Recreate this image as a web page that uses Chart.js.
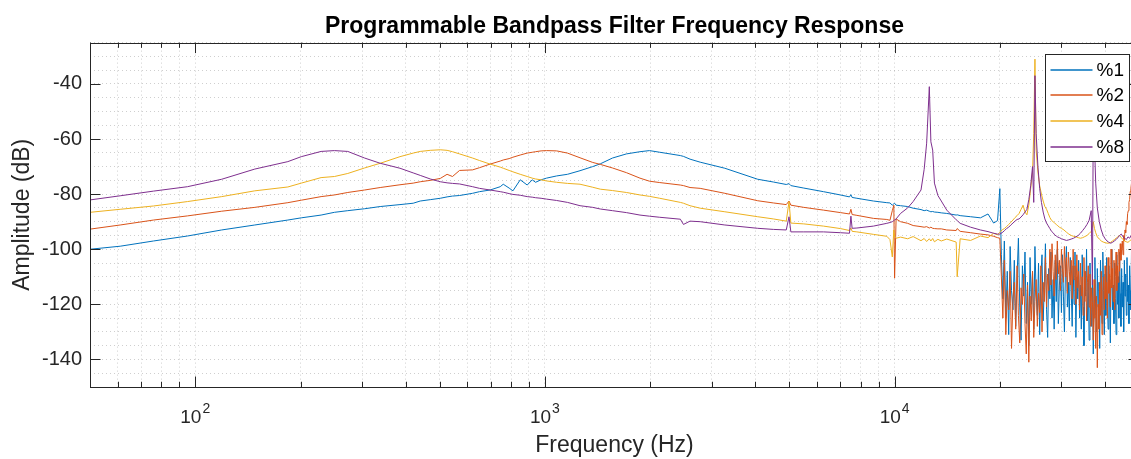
<!DOCTYPE html>
<html lang="en">
<head>
<meta charset="UTF-8">
<title>Programmable Bandpass Filter Frequency Response</title>
<script src="https://cdn.jsdelivr.net/npm/chart.js"></script>
<style>
  html, body { margin: 0; padding: 0; background: #fff; overflow: hidden; }
  #wrap { width: 1139px; height: 459px; }
</style>
</head>
<body>
<div id="wrap"><canvas id="myChart" width="1139" height="459"></canvas></div>
<script>
// frequency points (Hz) below 20 kHz, shared by the four traces
const freq = [
  50, 61, 76, 95, 119, 148, 184, 201, 229, 250, 273, 305, 338, 385, 420, 440, 470, 502, 525, 544,
  570, 621, 650, 697, 745, 760, 790, 810, 850, 890, 920, 940, 975, 1010, 1080, 1160, 1260, 1370, 1440, 1560,
  1710, 1870, 1990, 2130, 2440, 2490, 2600,
  2780, 3270, 4060, 4500, 4900, 4990, 5050, 5500, 6260, 7000, 7430, 7500, 7560, 7800, 8700, 9500, 9700, 9850,
  9950, 10000, 10100, 10400, 10900, 11300, 11900, 12150, 12350, 12570, 12700, 12850, 13000, 13300, 13600, 14100,
  15000, 15100, 15400, 16500, 17600, 18500, 19200, 19700
];

// amplitude (dB) below 20 kHz
const amp1 = [
  -100, -98.9, -97, -95.2, -93, -91.2, -89.4, -88.6, -87.6, -86.6, -86, -85.3, -84.5, -83.8, -83.3, -82.5, -82, -81.5, -81, -80.7,
  -80.5, -79.7, -79.1, -78.5, -77.3, -76.4, -77.8, -78.8, -74.8, -76.7, -74.8, -75.7, -74.8, -74.2, -73.4, -72.8, -71.5, -70, -69, -66.9,
  -65.4, -64.6, -64.2, -64.8, -66, -66.3, -67.3,
  -68.4, -70.6, -74.6, -75.6, -76.5, -76.2, -76.9, -77.8, -79.1, -80.3, -81, -80.2, -81.2, -81.5, -82.5, -83.1, -83.2, -84,
  -83.5, -83.3, -84, -84.2, -84.5, -85.1, -85.6, -86, -85.8, -86.2, -86.4, -86.3, -86.5, -86.6, -86.8, -87,
  -87.6, -87.5, -87.8, -88.2, -88.6, -87.2, -90.5, -89.6
];
const amp2 = [
  -92.7, -91.2, -89.4, -87.9, -86.2, -84.8, -83.1, -82.2, -80.9, -80.3, -79.4, -78.5, -77.6, -76.6, -76, -75.5, -75, -74.3, -72.8, -73.6,
  -71.4, -71.2, -70.4, -69.1, -68, -67.6, -67.1, -66.6, -65.8, -65.1, -64.8, -64.6, -64.3, -64.2, -64.3, -65.1, -66.8, -68.5, -69.2, -70.5,
  -72.2, -74.2, -75.3, -75.8, -76.7, -76.9, -77.6,
  -77.9, -79.7, -82.4, -83.2, -83.8, -82.5, -84, -84.8, -85.8, -86.7, -87.2, -85.5, -87.4, -87.7, -88.8, -89.2, -89.5, -86,
  -84, -110.5, -89, -90, -90.6, -91.4, -91.8, -92, -91.8, -92.3, -92, -92.4, -92.5, -92.6, -92.6, -93,
  -93.2, -92.5, -93.5, -94, -94.5, -94.8, -95.3, -95.8
];
const amp4 = [
  -86.6, -85.5, -84.3, -82.7, -80.9, -78.8, -77.4, -76, -74, -73.6, -72.5, -70.5, -68.8, -66.4, -65.1, -64.5, -64.1, -63.9, -64.1, -64.6,
  -65.4, -66.9, -67.8, -69.1, -70.2, -70.6, -71.4, -71.9, -72.8, -73.6, -74.2, -74.5, -74.8, -75.2, -75.7, -76.1, -76.4, -77.5, -78.2, -78.7,
  -79.4, -80.3, -80.8, -81.5, -83, -83.3, -84.2,
  -85.1, -86.4, -88.2, -89, -89.8, -82.7, -90.5, -90.8, -91.6, -92.5, -93.2, -92.3, -93.5, -93.7, -94.6, -95.3, -96.5, -102.8,
  -93, -95.2, -96, -95.6, -96.2, -95.4, -96.9, -96.1, -97.2, -96.2, -97, -96.1, -97.3, -96.4, -97, -96.3,
  -97.4, -110, -96.2, -96.8, -95.2, -95.8, -94.2, -94.8
];
const amp8 = [
  -82.1, -80.6, -78.9, -77.3, -74.6, -70.9, -68.2, -66.4, -64.5, -64.2, -64.5, -66.9, -68.8, -70.6, -72.3, -73.2, -74.5, -75.5, -75.9, -76.1,
  -76.3, -77.3, -77.9, -78.5, -79.1, -79.3, -79.8, -80.1, -80.4, -80.9, -81.1, -81.3, -81.5, -81.8, -82.3, -83, -84.2, -84.8, -85.4, -86,
  -86.7, -87.6, -88, -88.4, -89.1, -91, -89.8,
  -90, -91.2, -92.4, -92.8, -93, -88.2, -93.7, -93.7, -93.7, -94, -94.2, -88, -92.4, -92.3, -91.6, -90.6, -90.3, -90,
  -89.6, -89.4, -89, -87, -85, -82.7, -78.5, -71, -61.5, -41, -61, -64, -76, -80.5, -82.5, -85.8,
  -89.3, -89.6, -90.6, -92, -93, -93.6, -94.2, -94.5
];

// 20 kHz and up: resonance traces of %4 and %8
const freqHi = [
  20000, 20300, 20600, 20900, 21200, 21500, 21800, 22100, 22400, 22700, 23000, 23300, 23600, 23900, 24200, 24500,
  24800, 25000, 25200, 25400, 25700, 26000, 26300, 26600, 26900, 27200, 27500, 27800, 28100, 28400, 28700, 29000,
  29300, 29600, 30000, 30500, 31000, 31500, 32000, 32500, 33000, 33500, 34000, 34500, 35000, 35500, 36000, 36500,
  36800, 37000, 37300, 37600, 38000, 38500, 39000, 39500, 40000, 40500, 41000, 41500, 42000, 42500, 43000, 43500,
  44000, 44500, 45000, 45500, 46000, 46500, 47000, 47500, 48000, 48500, 49000, 49500, 50000
];
const amp4Hi = [
  -93.8, -93, -92.5, -91.8, -91, -90.2, -89.4, -88.5, -87.8, -87, -85.5, -84, -86.5, -87.5, -84, -78,
  -72, -58, -31, -64, -72, -77, -80, -82.5, -84.5, -85.5, -87, -88.5, -89.5, -90, -90.5, -91,
  -91.5, -92, -92.4, -93, -93.8, -94.5, -95, -95.3, -95.5, -95.8, -96, -95.8, -95.4, -95, -94.3, -93.5,
  -92, -90, -92.5, -94, -95.5, -96.3, -97, -97.4, -97.6, -97.8, -97.8, -97.5, -97, -96.5, -96, -95.5,
  -95, -95.8, -96.5, -97, -97.3, -97.5, -97, -96.5, -96.2, -96, -96, -96, -96
];
const amp8Hi = [
  -94.5, -94, -93.3, -92.5, -92, -91.2, -90.5, -89.8, -89.2, -89, -88.3, -87.5, -86.5, -85.5, -82, -77,
  -70, -83, -37, -58, -70, -78, -83, -86.5, -89, -90.5, -91.5, -92.5, -93.5, -94, -94.8, -95.2,
  -95.6, -95.8, -96.2, -96.5, -96.8, -96.6, -96.3, -96, -95.5, -95, -94.2, -93.2, -92.2, -91, -89.5, -86,
  -113, -52, -62, -76, -85, -90, -93, -95, -96.2, -97, -97.5, -97.8, -97.5, -97, -96.5, -95.8,
  -95, -94.5, -95.5, -96, -96.5, -95.5, -96, -95, -95.5, -95, -95, -95, -95
];

// 20 kHz and up: noise floor of %1 and %2, sampled every 200 Hz
const freqNoise = [
  20000, 20200, 20400, 20600, 20800, 21000, 21200, 21400, 21600, 21800,
  22000, 22200, 22400, 22600, 22800, 23000, 23200, 23400, 23600, 23800,
  24000, 24200, 24400, 24600, 24800, 25000, 25200, 25400, 25600, 25800,
  26000, 26200, 26400, 26600, 26800, 27000, 27200, 27400, 27600, 27800,
  28000, 28200, 28400, 28600, 28800, 29000, 29200, 29400, 29600, 29800,
  30000, 30200, 30400, 30600, 30800, 31000, 31200, 31400, 31600, 31800,
  32000, 32200, 32400, 32600, 32800, 33000, 33200, 33400, 33600, 33800,
  34000, 34200, 34400, 34600, 34800, 35000, 35200, 35400, 35600, 35800,
  36000, 36200, 36400, 36600, 36800, 37000, 37200, 37400, 37600, 37800,
  38000, 38200, 38400, 38600, 38800, 39000, 39200, 39400, 39600, 39800,
  40000, 40200, 40400, 40600, 40800, 41000, 41200, 41400, 41600, 41800,
  42000, 42200, 42400, 42600, 42800, 43000, 43200, 43400, 43600, 43800,
  44000, 44200, 44400, 44600, 44800, 45000, 45200, 45400, 45600, 45800,
  46000, 46200, 46400, 46600, 46800, 47000, 47200, 47400, 47600, 47800,
  48000, 48200, 48400, 48600, 48800, 49000, 49200, 49400, 49600, 49800, 50000
];
const amp1Hi = [
  -78, -102, -118, -97, -125, -108, -131, -99, -115, -122,
  -104, -128, -110, -96, -121, -133, -106, -117, -101, -127,
  -112, -135, -103, -120, -108, -129, -99, -116, -124, -105,
  -131, -110, -102, -126, -114, -98, -122, -132, -107, -118,
  -101, -125, -111, -129, -104, -119, -100, -127, -113, -106,
  -123, -102, -117, -130, -108, -99, -121, -112, -126, -103,
  -115, -128, -106, -120, -101, -132, -110, -118, -104, -125,
  -113, -129, -102, -121, -135, -108, -117, -100, -126, -111,
  -133, -105, -119, -128, -109, -138, -114, -103, -124, -130,
  -107, -121, -112, -136, -104, -118, -127, -101, -115, -131,
  -109, -124, -103, -119, -129, -106, -116, -134, -111, -100,
  -122, -113, -127, -105, -118, -131, -102, -120, -110, -125,
  -101, -116, -128, -107, -121, -112, -130, -104, -117, -109,
  -124, -103, -119, -113, -127, -106, -115, -122, -100, -118,
  -111, -126, -105, -120, -114, -129, -108, -117, -121, -110, -116
];
const amp2Hi = [
  -96, -110, -125, -104, -131, -115, -122, -108, -136, -118,
  -112, -129, -106, -124, -134, -114, -120, -109, -127, -138,
  -113, -141, -117, -126, -108, -132, -119, -111, -128, -116,
  -123, -106, -130, -112, -119, -103, -121, -109, -115, -100,
  -113, -98, -108, -117, -102, -111, -97, -109, -104, -115,
  -100, -107, -112, -99, -110, -103, -116, -101, -108, -113,
  -104, -118, -100, -111, -106, -120, -102, -114, -108, -122,
  -105, -117, -110, -124, -103, -119, -108, -126, -112, -106,
  -121, -109, -128, -114, -119, -133, -111, -125, -136, -117,
  -143, -120, -129, -112, -124, -108, -131, -115, -110, -122,
  -106, -118, -112, -125, -103, -116, -109, -121, -100, -114,
  -107, -119, -104, -122, -110, -101, -115, -106, -112, -100,
  -108, -98, -104, -100, -97, -102, -95, -97, -93, -94,
  -90, -91, -87, -86, -83, -82, -79, -78, -76, -75,
  -73, -72, -71, -70, -69, -68, -68, -67, -67, -66, -66
];

const seriesLabels = ['%1', '%2', '%4', '%8'];
const seriesColors = ['#0072BD', '#D95319', '#EDB120', '#7E2F8E'];

// axis ticks
const xTicks = [50, 60, 70, 80, 90, 100, 200, 300, 400, 500, 600, 700, 800, 900,
  1000, 2000, 3000, 4000, 5000, 6000, 7000, 8000, 9000, 10000, 20000, 30000, 40000, 50000];
const xMajor = [100, 1000, 10000];
const yLabels = [-140, -120, -100, -80, -60, -40];

const FONT = '"Liberation Sans", Arial, Helvetica, sans-serif';

function toPoints(fs, vs) {
  return fs.map((f, k) => ({ x: f, y: vs[k] }));
}

const traces = [
  toPoints(freq, amp1).concat(toPoints(freqNoise, amp1Hi)),
  toPoints(freq, amp2).concat(toPoints(freqNoise, amp2Hi)),
  toPoints(freq, amp4).concat(toPoints(freqHi, amp4Hi)),
  toPoints(freq, amp8).concat(toPoints(freqHi, amp8Hi))
];

// box, inward tick marks, x labels with exponents, legend
const matlabAxes = {
  id: 'matlabAxes',
  afterDraw(chart) {
    const { ctx, chartArea: ca, scales: { x, y } } = chart;
    ctx.save();
    ctx.strokeStyle = '#262626';
    ctx.lineWidth = 1;
    ctx.beginPath();
    xTicks.forEach(v => {
      const px = Math.round(x.getPixelForValue(v)) + 0.5;
      const len = xMajor.includes(v) ? 10.5 : 5.25;
      ctx.moveTo(px, ca.bottom); ctx.lineTo(px, ca.bottom - len);
      ctx.moveTo(px, ca.top); ctx.lineTo(px, ca.top + len);
    });
    yLabels.forEach(v => {
      const py = Math.round(y.getPixelForValue(v)) + 0.5;
      ctx.moveTo(ca.left, py); ctx.lineTo(ca.left + 10.5, py);
      ctx.moveTo(ca.right, py); ctx.lineTo(ca.right - 10.5, py);
    });
    ctx.stroke();
    const bl = Math.round(ca.left) + 0.5, bt = Math.round(ca.top) + 0.5;
    ctx.strokeRect(bl, bt, Math.round(ca.right) - Math.round(ca.left), Math.round(ca.bottom) - Math.round(ca.top));

    // x tick labels: 10 with exponent
    ctx.fillStyle = '#262626';
    ctx.textAlign = 'left';
    ctx.textBaseline = 'alphabetic';
    xMajor.forEach(v => {
      const px = x.getPixelForValue(v);
      const ex = String(Math.round(Math.log10(v)));
      ctx.font = '19px ' + FONT;
      const w1 = ctx.measureText('10').width;
      ctx.font = '14px ' + FONT;
      const w2 = ctx.measureText(ex).width;
      const x0 = px - (w1 + w2 + 1) / 2;
      ctx.font = '19px ' + FONT;
      ctx.fillText('10', x0, ca.bottom + 36);
      ctx.font = '14px ' + FONT;
      ctx.fillText(ex, x0 + w1 + 1, ca.bottom + 26);
    });

    // legend box
    const lw = 84, lh = 107;
    const lx = Math.round(ca.right - 10.5 - lw) + 0.5;
    const ly = Math.round(ca.top + 11) + 0.5;
    ctx.fillStyle = '#fff';
    ctx.fillRect(lx, ly, lw, lh);
    ctx.strokeStyle = '#262626';
    ctx.strokeRect(lx, ly, lw, lh);
    ctx.font = '19px ' + FONT;
    ctx.textBaseline = 'middle';
    seriesLabels.forEach((lab, i) => {
      const ry = Math.round(ly + 15 + i * 25.9);
      ctx.strokeStyle = seriesColors[i];
      ctx.lineWidth = 1.5;
      ctx.beginPath();
      ctx.moveTo(lx + 5, ry); ctx.lineTo(lx + 47, ry);
      ctx.stroke();
      ctx.fillStyle = '#000';
      ctx.fillText(lab, lx + 51, ry + 1);
    });
    ctx.restore();
  }
};

const ctx = document.getElementById('myChart').getContext('2d');
const myChart = new Chart(ctx, {
  type: 'line',
  data: {
    datasets: traces.map((pts, i) => ({
      label: seriesLabels[i],
      data: pts,
      borderColor: seriesColors[i],
      backgroundColor: seriesColors[i],
      borderWidth: 1,
      pointRadius: 0,
      tension: 0,
      fill: false,
      order: 3 - i
    }))
  },
  options: {
    responsive: false,
    animation: false,
    events: [],
    layout: { padding: 0 },
    plugins: {
      legend: { display: false },
      tooltip: { enabled: false },
      title: {
        display: true,
        fullSize: false,
        text: 'Programmable Bandpass Filter Frequency Response',
        color: '#000',
        font: { family: FONT, size: 23, weight: 'bold' },
        padding: { top: 13, bottom: 2 }
      }
    },
    scales: {
      x: {
        type: 'logarithmic',
        min: 50,
        max: 50000,
        bounds: 'data',
        afterBuildTicks: scale => {
          scale.ticks = xTicks.map(v => ({ value: v, major: xMajor.includes(v) }));
        },
        afterFit: scale => { scale.height = 72; },
        ticks: { display: false, autoSkip: false },
        grid: { color: 'rgba(38,38,38,0.22)', lineWidth: 1, drawTicks: false },
        border: { display: false, dash: [1, 3] },
        title: {
          display: true,
          text: 'Frequency (Hz)',
          color: '#262626',
          font: { family: FONT, size: 23 },
          padding: { top: 0, bottom: 0 }
        }
      },
      y: {
        type: 'linear',
        min: -150,
        max: -25,
        afterFit: scale => { scale.width = 90; },
        ticks: {
          stepSize: 5,
          autoSkip: false,
          padding: 8,
          color: '#262626',
          font: { family: FONT, size: 20 },
          callback: v => (yLabels.includes(v) ? String(v) : '')
        },
        grid: { color: 'rgba(38,38,38,0.22)', lineWidth: 1, drawTicks: false },
        border: { display: false, dash: [1, 3] },
        title: {
          display: true,
          text: 'Amplitude (dB)',
          color: '#262626',
          font: { family: FONT, size: 23 },
          padding: { top: 9, bottom: 0 }
        }
      }
    }
  },
  plugins: [matlabAxes]
});
</script>
</body>
</html>
